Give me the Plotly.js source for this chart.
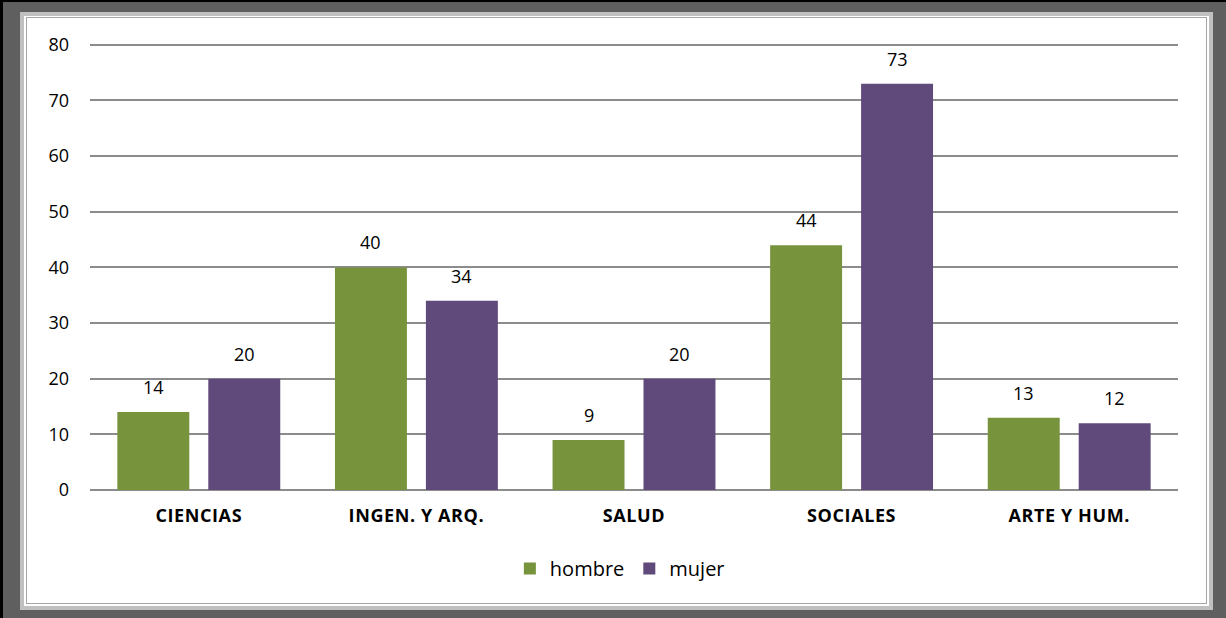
<!DOCTYPE html>
<html>
<head>
<meta charset="utf-8">
<script src="https://cdn.plot.ly/plotly-3.0.1.min.js"></script>
<style>
  html, body { margin: 0; padding: 0; background: #fff; }
  #frame { position: absolute; left: 0; top: 0; width: 1226px; height: 618px; box-sizing: border-box;
           background: #5f5f5f; border-top: 2px solid #000; border-left: 3px solid #000; }
  #light { position: absolute; left: 20px; top: 12px; width: 1193px; height: 598px; background: #c0c0c0; }
  #white { position: absolute; left: 24px; top: 16px; width: 1185px; height: 590px; background: #fff; }
  #inner { position: absolute; left: 26px; top: 17px; width: 1181px; height: 587px; box-sizing: border-box;
           border: 1px solid #a6a6a6; background: #fff; }
  #chart { position: absolute; left: 0; top: 0; width: 1226px; height: 618px; }
  #chart .xtick text { letter-spacing: 0.6px; }
</style>
</head>
<body>
<div id="frame"></div>
<div id="light"></div>
<div id="white"></div>
<div id="inner"></div>
<div id="chart"></div>
<script>
const categories = ["CIENCIAS", "INGEN. Y ARQ.", "SALUD", "SOCIALES", "ARTE Y HUM."];
const hombre = [14, 40, 9, 44, 13];
const mujer = [20, 34, 20, 73, 12];
const yTicks = [0, 10, 20, 30, 40, 50, 60, 70, 80];

const FONT = "Open Sans, Noto Sans, sans-serif";

const traces = [
  { type: "bar", name: "hombre", x: categories, y: hombre, marker: { color: "#77933c" }, hoverinfo: "y" },
  { type: "bar", name: "mujer", x: categories, y: mujer, marker: { color: "#604a7b" }, hoverinfo: "y" }
];

const annotations = [];
categories.forEach((c, i) => {
  annotations.push({ x: c, y: hombre[i], xref: "x", yref: "y", text: String(hombre[i]), showarrow: false,
    xshift: -45.5, yshift: 25, yanchor: "middle", font: { family: FONT, size: 18, color: "#000" } });
  annotations.push({ x: c, y: mujer[i], xref: "x", yref: "y", text: String(mujer[i]), showarrow: false,
    xshift: 45.5, yshift: 25, yanchor: "middle", font: { family: FONT, size: 18, color: "#000" } });
});

const layout = {
  width: 1226, height: 618,
  margin: { l: 90, r: 48, t: 42, b: 128, pad: 0 },
  paper_bgcolor: "rgba(0,0,0,0)",
  plot_bgcolor: "rgba(0,0,0,0)",
  font: { family: FONT, size: 18, color: "#000" },
  barmode: "group",
  bargap: 0.164,
  bargroupgap: 0.209,
  xaxis: {
    type: "category",
    tickfont: { family: FONT, size: 18, color: "#000", weight: "bold" },
    showgrid: false, zeroline: false, showline: false,
    ticks: "", ticklabelstandoff: 13
  },
  yaxis: {
    range: [0, 80.5], tickvals: yTicks, ticktext: yTicks.map(String),
    showgrid: true, gridcolor: "#8c8c8c", gridwidth: 2,
    zeroline: true, zerolinecolor: "#8c8c8c", zerolinewidth: 2,
    showline: false, ticks: "", ticklabelstandoff: 20,
    tickfont: { family: FONT, size: 18, color: "#000" }
  },
  legend: {
    orientation: "h", x: 0.487, xanchor: "center", y: -0.175, yanchor: "middle",
    font: { family: FONT, size: 20, color: "#000" }, itemwidth: 30, traceorder: "normal"
  },
  annotations: annotations,
  showlegend: true
};

Plotly.newPlot("chart", traces, layout, { displayModeBar: false, staticPlot: true });
</script>
</body>
</html>
